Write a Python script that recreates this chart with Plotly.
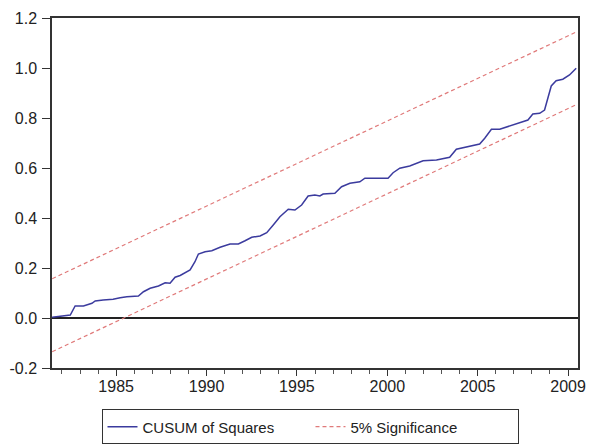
import plotly.graph_objects as go

# CUSUM of squares of recursive residuals (time in fractional years)
years = [
    1981.46, 1982.28, 1982.46, 1982.73, 1983.19, 1983.66, 1983.84, 1984.28,
    1984.83, 1985.22, 1985.59, 1986.23, 1986.51, 1986.88, 1987.34, 1987.71,
    1987.98, 1988.26, 1988.54, 1989.09, 1989.36, 1989.55, 1989.92, 1990.29,
    1990.75, 1991.30, 1991.76, 1992.13, 1992.50, 1992.96, 1993.33, 1993.69,
    1994.06, 1994.52, 1994.89, 1995.26, 1995.62, 1995.99, 1996.27, 1996.45,
    1997.10, 1997.47, 1997.93, 1998.48, 1998.76, 1999.40, 2000.04, 2000.32,
    2000.69, 2001.24, 2001.61, 2001.98, 2002.72, 2003.45, 2003.82, 2004.38,
    2005.11, 2005.39, 2005.76, 2006.22, 2006.77, 2007.32, 2007.78, 2008.05,
    2008.43, 2008.70, 2008.88, 2009.07, 2009.34, 2009.71, 2010.08, 2010.45,
]
cusum_sq = [
    0.003, 0.010, 0.012, 0.048, 0.048, 0.059, 0.068, 0.072,
    0.075, 0.081, 0.085, 0.088, 0.105, 0.119, 0.128, 0.141,
    0.139, 0.163, 0.170, 0.192, 0.225, 0.256, 0.265, 0.269,
    0.283, 0.296, 0.296, 0.309, 0.323, 0.328, 0.341, 0.372,
    0.405, 0.435, 0.432, 0.452, 0.488, 0.492, 0.488, 0.496,
    0.499, 0.525, 0.539, 0.545, 0.559, 0.559, 0.559, 0.581,
    0.599, 0.608, 0.619, 0.629, 0.632, 0.643, 0.675, 0.685,
    0.696, 0.719, 0.755, 0.755, 0.768, 0.781, 0.792, 0.816,
    0.819, 0.832, 0.879, 0.928, 0.949, 0.955, 0.972, 0.999,
]

# 5% significance bounds (straight lines over the sample)
band_years = [1981.46, 2010.45]
upper_5pct = [0.157, 1.144]
lower_5pct = [-0.135, 0.853]

tick_years = [1985, 1990, 1995, 2000, 2005, 2010]
tick_labels = ["1985", "1990", "1995", "2000", "2005", "2009"]
y_ticks = [-0.2, 0.0, 0.2, 0.4, 0.6, 0.8, 1.0, 1.2]
y_labels = ["-0.2", "0.0", "0.2", "0.4", "0.6", "0.8", "1.0", "1.2"]

FONT = "Liberation Sans, Arial, sans-serif"
BLUE = "#3b3b9e"
RED = "#e07a7a"

fig = go.Figure()
fig.add_trace(go.Scatter(
    x=years, y=cusum_sq, mode="lines", name="CUSUM of Squares",
    line=dict(color=BLUE, width=1.5),
))
fig.add_trace(go.Scatter(
    x=band_years, y=upper_5pct, mode="lines", name="5% Significance",
    legendgroup="sig", line=dict(color=RED, width=1.2, dash="4px,3px"),
))
fig.add_trace(go.Scatter(
    x=band_years, y=lower_5pct, mode="lines", name="5% Significance",
    legendgroup="sig", showlegend=False,
    line=dict(color=RED, width=1.2, dash="4px,3px"),
))

fig.update_layout(
    width=589, height=448,
    margin=dict(l=52, r=11, t=18, b=80),
    paper_bgcolor="white", plot_bgcolor="white",
    font=dict(family=FONT, size=16, color="#222"),
    showlegend=True,
    legend=dict(
        orientation="h",
        xref="container", x=0.528, xanchor="center",
        yref="container", y=0.047, yanchor="middle",
        bordercolor="#333", borderwidth=1, bgcolor="white",
        font=dict(family=FONT, size=15, color="#222"),
        entrywidth=163, entrywidthmode="pixels",
        itemwidth=30, tracegroupgap=0,
    ),
    xaxis=dict(
        range=[1981.45, 2010.55], tickmode="array",
        tickvals=tick_years, ticktext=tick_labels,
        showgrid=False, zeroline=False, automargin=False,
        showline=True, linecolor="#333", linewidth=1.5, mirror=True,
        ticks="outside", ticklen=6, tickwidth=1, tickcolor="#333",
        ticklabelstandoff=-3,
        minor=dict(tick0=1980, dtick=1, ticks="outside", ticklen=4,
                   tickwidth=1, tickcolor="#555", showgrid=False),
        tickfont=dict(family=FONT, size=16, color="#222"),
    ),
    yaxis=dict(
        range=[-0.2, 1.2], tickmode="array",
        tickvals=y_ticks, ticktext=y_labels,
        showgrid=False, automargin=False,
        zeroline=True, zerolinecolor="#222", zerolinewidth=1.5,
        showline=True, linecolor="#333", linewidth=1.5, mirror=True,
        ticks="outside", ticklen=8, tickwidth=1, tickcolor="#333",
        ticklabelstandoff=2,
        tickfont=dict(family=FONT, size=16, color="#222"),
    ),
)

fig.write_html("out.html")
